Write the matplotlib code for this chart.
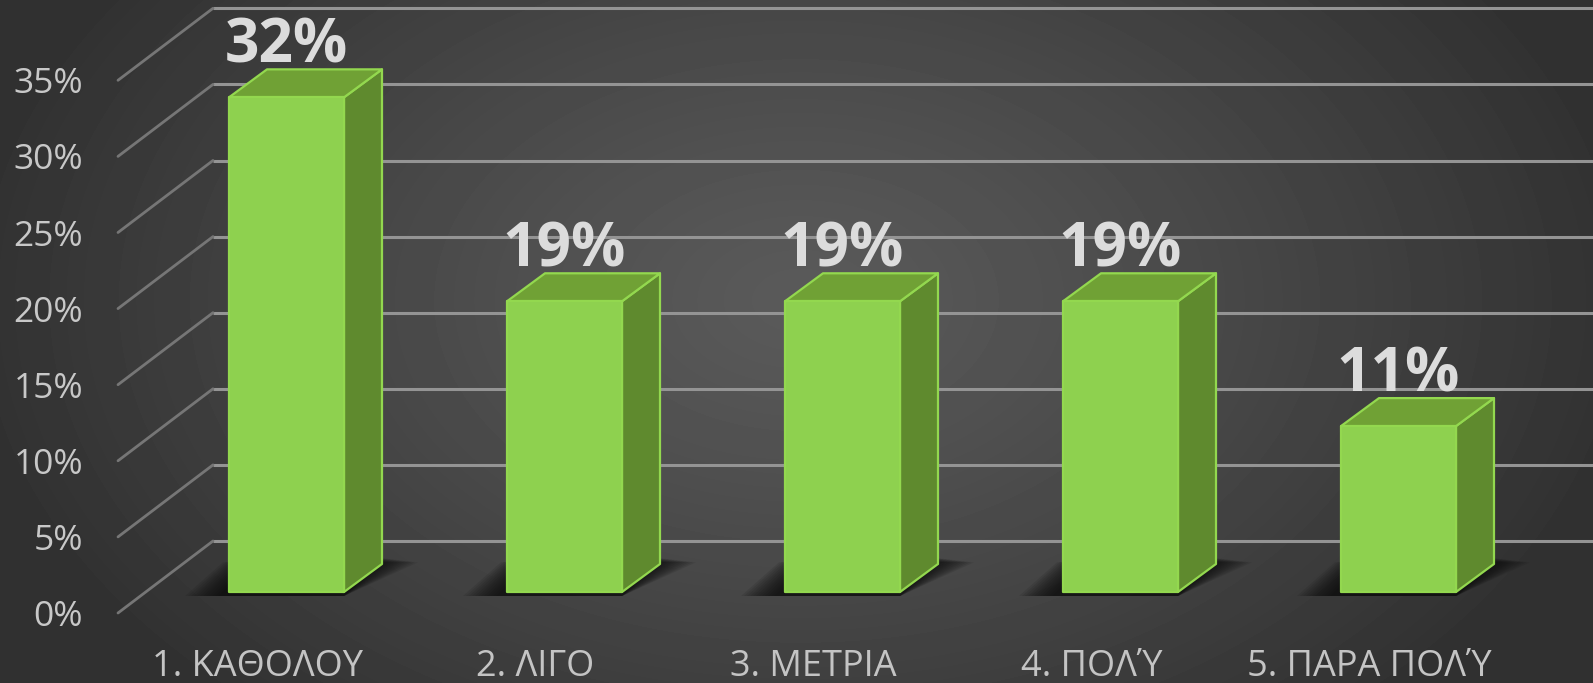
import numpy as np
import matplotlib
matplotlib.use("Agg")
import matplotlib.pyplot as plt
from matplotlib.patches import Polygon
from matplotlib.transforms import Affine2D

categories = ["1. ΚΑΘΟΛΟΥ", "2. ΛΙΓΟ", "3. ΜΕΤΡΙΑ", "4. ΠΟΛΎ", "5. ΠΑΡΑ ΠΟΛΎ"]
values = [32.5, 19.1, 19.1, 19.1, 10.9]
value_labels = ["32%", "19%", "19%", "19%", "11%"]
y_ticks = [0, 5, 10, 15, 20, 25, 30, 35]

W, H = 1593, 683
plt.rcParams['font.family'] = ['Open Sans', 'DejaVu Sans']
fig = plt.figure(figsize=(W / 100, H / 100), dpi=100)
ax = fig.add_axes([0, 0, 1, 1])

# scales: category spacing 278 px, 15.22 px per percent, on the bars' front plane
x0_px, dx_px, y0_px, dy_px = 286.5, 278.0, 592.0, 15.22
ax.set_xlim(-x0_px / dx_px, (W - x0_px) / dx_px)
ax.set_ylim((y0_px - H) / dy_px, y0_px / dy_px)
ax.axis("off")
half_w = 57.5 / dx_px

def shift(px, py):
    return ax.transData + Affine2D().translate(px, py)

# background radial gradient
yy, xx = np.mgrid[0:H, 0:W]
r = np.sqrt(((xx - 800) / 850.0) ** 2 + ((yy - 300) / 560.0) ** 2)
grad = 0x5a - (0x5a - 0x30) * np.clip(r, 0, 1) ** 1.2
ax.imshow(grad, cmap="gray", vmin=0, vmax=255, aspect="auto", zorder=0,
          extent=[*ax.get_xlim(), *ax.get_ylim()], interpolation="bilinear")
ax.set_xlim(-x0_px / dx_px, (W - x0_px) / dx_px)
ax.set_ylim((y0_px - H) / dy_px, y0_px / dy_px)

# gridlines: back wall and oblique side wall
ytr = ax.get_yaxis_transform()
for v in y_ticks:
    ax.plot([213 / W, 1], [v, v], transform=ytr + Affine2D().translate(0, 51),
            color="#949494", lw=2.2, zorder=1, solid_capstyle="butt")
    x_pts = np.array([118, 213]) / W
    tr = ytr + Affine2D().translate(0, -21)
    tr2 = ytr + Affine2D().translate(0, 51)
    p0 = tr.transform((x_pts[0], v))
    p1 = tr2.transform((x_pts[1], v))
    ax.plot([p0[0], p1[0]], [p0[1], p1[1]], transform=Affine2D(),
            color="#767676", lw=2.0, zorder=1, solid_capstyle="round")
    ax.text(83 / W, v, f"{v}%", transform=tr, ha="right", va="center_baseline",
            fontsize=25.5, color="#c8c8c8", zorder=5)

# bars
for i, (cat, v, lab) in enumerate(zip(categories, values, value_labels)):
    l, r_ = i - half_w, i + half_w
    # soft floor shadow (stacked translucent parallelograms)
    for k in range(12):
        g = (12 - k) * 3.0
        sx = g / dx_px
        sy = g * 0.12 / dy_px
        sh = [(l - 8 / dx_px - sx, -4 / dy_px), (r_, -4 / dy_px),
              (r_ + 38 / dx_px + sx, 34 / dy_px - sy), (l + 30 / dx_px - sx, 34 / dy_px - sy)]
        ax.add_patch(Polygon(sh, closed=True, fc="#0a0a0a", ec="none", alpha=0.10, zorder=2))
    dx_d, dy_d = 38 / dx_px, 28 / dy_px
    side = [(r_, 0), (r_ + dx_d, dy_d), (r_ + dx_d, v + dy_d), (r_, v)]
    top = [(l, v), (l + dx_d, v + dy_d), (r_ + dx_d, v + dy_d), (r_, v)]
    front = [(l, 0), (r_, 0), (r_, v), (l, v)]
    ax.add_patch(Polygon(side, closed=True, fc="#5f8a2e", ec="#93d84f", lw=1.6, zorder=3, joinstyle="round"))
    ax.add_patch(Polygon(top, closed=True, fc="#70a135", ec="#93d84f", lw=1.6, zorder=3, joinstyle="round"))
    ax.add_patch(Polygon(front, closed=True, fc="#8ed14f", ec="#93d84f", lw=1.6, zorder=4, joinstyle="round"))
    ax.text(i, v, lab, transform=shift(0, 35), ha="center", va="baseline",
            fontsize=43.5, fontweight="bold", color="#dcdcdc", zorder=6)
    ax.text(i, 0, cat, transform=shift(-29, -71), ha="center", va="center_baseline",
            fontsize=26, color="#c4c4c4", zorder=5)

fig.savefig("out.png", dpi=100, facecolor="#333333")
